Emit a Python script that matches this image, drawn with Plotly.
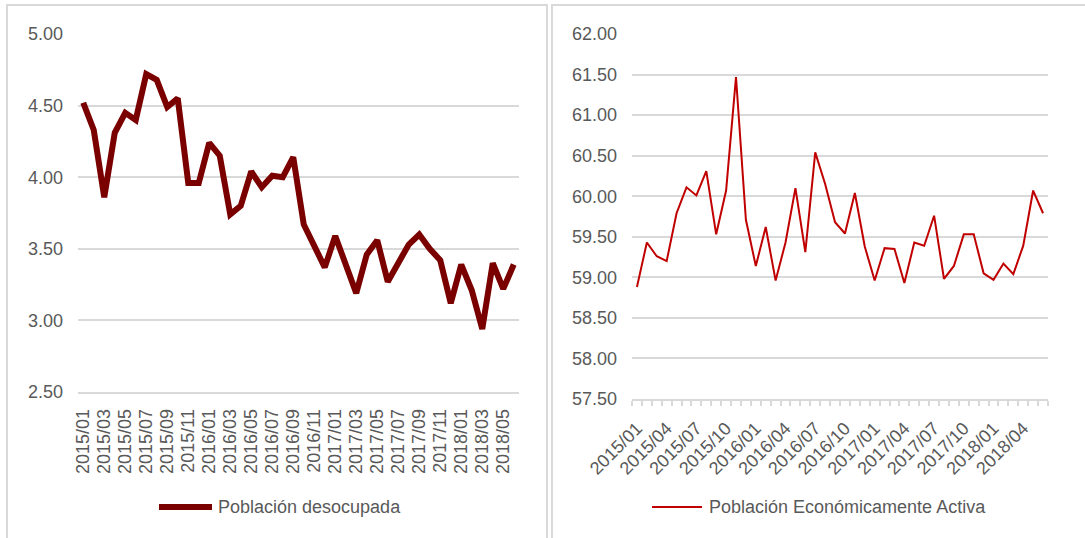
import plotly.graph_objects as go

# monthly periods shared by both panels
months = [
    "2015/01", "2015/02", "2015/03", "2015/04", "2015/05", "2015/06",
    "2015/07", "2015/08", "2015/09", "2015/10", "2015/11", "2015/12",
    "2016/01", "2016/02", "2016/03", "2016/04", "2016/05", "2016/06",
    "2016/07", "2016/08", "2016/09", "2016/10", "2016/11", "2016/12",
    "2017/01", "2017/02", "2017/03", "2017/04", "2017/05", "2017/06",
    "2017/07", "2017/08", "2017/09", "2017/10", "2017/11", "2017/12",
    "2018/01", "2018/02", "2018/03", "2018/04", "2018/05", "2018/06",
]

# left panel
desocupada = [
    4.52, 4.33, 3.86, 4.31, 4.45, 4.40, 4.72, 4.68, 4.49, 4.55, 3.96, 3.96,
    4.24, 4.15, 3.74, 3.80, 4.04, 3.93, 4.01, 4.00, 4.14, 3.67, 3.52, 3.37,
    3.59, 3.38, 3.19, 3.46, 3.56, 3.27, 3.41, 3.53, 3.60, 3.50, 3.42, 3.12,
    3.39, 3.21, 2.94, 3.40, 3.22, 3.39,
]

# right panel
pea = [
    58.88, 59.43, 59.26, 59.20, 59.79, 60.11, 60.01, 60.31, 59.53, 60.07, 61.47, 59.71,
    59.14, 59.62, 58.96, 59.43, 60.10, 59.31, 60.54, 60.15, 59.68, 59.54, 60.04, 59.38,
    58.96, 59.36, 59.35, 58.93, 59.43, 59.39, 59.76, 58.98, 59.14, 59.53, 59.53, 59.05,
    58.97, 59.17, 59.04, 59.39, 60.07, 59.79,
]

name_left = "Población desocupada"
name_right = "Población Económicamente Activa"

W, H = 1085, 538
grid_color = "#d9d9d9"
text_color = "#595959"
font_family = "Liberation Sans, Arial, sans-serif"
fs = 18

idx = list(range(len(months)))


def px_x(v):
    return v / W


def px_y(v):
    return 1 - v / H


fig = go.Figure()

fig.add_trace(go.Scatter(
    x=idx, y=desocupada, mode="lines", name=name_left,
    line=dict(color="#7a0000", width=6),
    xaxis="x", yaxis="y", showlegend=False,
))
fig.add_trace(go.Scatter(
    x=idx, y=pea, mode="lines", name=name_right,
    line=dict(color="#c00000", width=2),
    xaxis="x2", yaxis="y2", showlegend=False,
))

tick_font = dict(family=font_family, size=fs, color=text_color)

fig.update_layout(
    width=W, height=H,
    margin=dict(l=0, r=0, t=0, b=0, pad=0),
    paper_bgcolor="white",
    plot_bgcolor="white",
    font=tick_font,
    xaxis=dict(
        domain=[px_x(78), px_x(519)],
        range=[-0.5, len(months) - 0.5],
        tickmode="array",
        tickvals=idx[::2],
        ticktext=months[::2],
        tickangle=-90,
        showgrid=False, zeroline=False,
        showline=True, linecolor=grid_color, linewidth=1.5,
        ticks="", ticklabelstandoff=8, automargin=False,
        tickfont=tick_font,
    ),
    yaxis=dict(
        domain=[px_y(392), px_y(34)],
        range=[2.5, 5.0],
        dtick=0.5, tick0=2.5,
        tickformat=".2f",
        showgrid=True, gridcolor=grid_color, gridwidth=1.5,
        zeroline=False, showline=False, ticks="",
        ticklabelstandoff=14, automargin=False,
        tickfont=tick_font,
    ),
    xaxis2=dict(
        domain=[px_x(632), px_x(1048)],
        range=[-0.5, len(months) - 0.5],
        tickmode="array",
        tickvals=idx[::3],
        ticktext=months[::3],
        tickangle=-45,
        showgrid=False, zeroline=False,
        showline=True, linecolor=grid_color, linewidth=1.5,
        ticks="", ticklabelstandoff=10, automargin=False,
        minor=dict(tick0=-0.5, dtick=1, ticks="outside", ticklen=5,
                   tickcolor=grid_color, tickwidth=1.5, showgrid=False),
        tickfont=tick_font,
        anchor="y2",
    ),
    yaxis2=dict(
        domain=[px_y(399), px_y(34)],
        range=[57.5, 62.0],
        dtick=0.5, tick0=57.5,
        tickformat=".2f",
        showgrid=True, gridcolor=grid_color, gridwidth=1.5,
        zeroline=False, showline=False, ticks="",
        ticklabelstandoff=14, automargin=False,
        tickfont=tick_font,
        anchor="x2",
    ),
)

# panel frames
shapes = [
    dict(type="rect", xref="paper", yref="paper",
         x0=px_x(7), x1=px_x(547), y0=-0.05, y1=px_y(5),
         line=dict(color=grid_color, width=2), fillcolor="rgba(0,0,0,0)"),
    dict(type="rect", xref="paper", yref="paper",
         x0=px_x(552), x1=1.05, y0=-0.05, y1=px_y(5),
         line=dict(color=grid_color, width=2), fillcolor="rgba(0,0,0,0)"),
    # legend keys
    dict(type="line", xref="paper", yref="paper",
         x0=px_x(159), x1=px_x(212), y0=px_y(507), y1=px_y(507),
         line=dict(color="#7a0000", width=6)),
    dict(type="line", xref="paper", yref="paper",
         x0=px_x(652), x1=px_x(702), y0=px_y(507), y1=px_y(507),
         line=dict(color="#c00000", width=2)),
]
fig.update_layout(shapes=shapes)

fig.add_annotation(
    text=name_left, xref="paper", yref="paper",
    x=px_x(216), y=px_y(507), xanchor="left", yanchor="middle",
    showarrow=False, font=tick_font,
)
fig.add_annotation(
    text=name_right, xref="paper", yref="paper",
    x=px_x(707), y=px_y(507), xanchor="left", yanchor="middle",
    showarrow=False, font=tick_font,
)

# drop the default page margin so the figure sits at the window corner
fig.write_html(
    "out.html",
    config={"displayModeBar": False},
    post_script="document.body.style.margin='0';",
)
